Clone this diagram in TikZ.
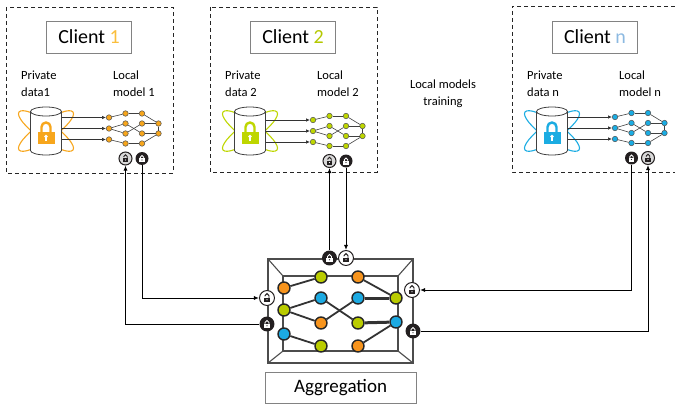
\documentclass[tikz,border=0pt]{standalone}
\usepackage{fontspec}
\setmainfont{Carlito}
\usepackage{tikz}
\usetikzlibrary{arrows.meta}
\definecolor{corange}{RGB}{247,166,28}
\definecolor{clime}{RGB}{190,214,0}
\definecolor{cblue}{RGB}{27,172,226}
\definecolor{torange}{RGB}{250,190,60}
\definecolor{tlime}{RGB}{180,200,0}
\definecolor{tblue}{RGB}{140,185,225}
\definecolor{aorange}{RGB}{247,148,29}
\definecolor{alime}{RGB}{186,204,0}
\definecolor{ablue}{RGB}{28,170,226}
\definecolor{lockdark}{RGB}{35,31,32}
\definecolor{boxgray}{RGB}{130,130,130}

\begin{document}
\begin{tikzpicture}[x=1pt, y=-1pt,
    clientbox/.style={draw=black!85, line width=0.9pt, dash pattern=on 4pt off 3pt},
    headbox/.style={draw=boxgray, line width=0.8pt, minimum width=85pt, minimum height=32pt, font=\fontsize{20}{24}\selectfont},
    note/.style={align=left, inner sep=0pt, font=\fontsize{12.5}{17}\selectfont},
    unit/.style={circle, draw=black!70, line width=0.5pt, fill=#1, minimum size=5.5pt, inner sep=0pt},
    link/.style={draw=black!75, line width=0.6pt},
    feed/.style={draw=black!80, line width=0.7pt, -{Latex[length=4pt,width=3.5pt]}},
    cylline/.style={draw=black!75, line width=0.8pt},
    cell/.style={circle, draw=black!85, line width=1.4pt, fill=#1, minimum size=12pt, inner sep=0pt},
    bond/.style={draw=black!80, line width=1.8pt},
    frame/.style={draw=black!70, line width=1.1pt},
    flow/.style={line width=0.9pt, -{Latex[length=5pt,width=4pt]}},
    lockring/.style={circle, minimum size=13pt, inner sep=0pt, transform shape},
    lockbg/.store in=\lockbg, lockbg=black!15,
    lockshut/.pic={
      \node[lockring, fill=lockdark] (#1) {};
      \draw[white, line width=0.9pt] (-1.7,0) -- (-1.7,-1.3) arc[start angle=180, end angle=360, radius=1.7] -- (1.7,0);
      \fill[white] (-2.8,-0.2) rectangle (2.8,3.6);
      \fill[lockdark] (0,1.5) circle (0.6);
    },
    lockopen/.pic={
      \node[lockring, draw=lockdark, line width=1pt, fill=\lockbg] (#1) {};
      \draw[lockdark, line width=0.9pt] (1.7,0) -- (1.7,-2.1) arc[start angle=0, end angle=-180, radius=1.7] -- (-1.7,-1.5);
      \fill[lockdark] (-2.8,-0.2) rectangle (2.8,3.6);
      \fill[white] (0,1.5) circle (0.6);
    },
    vault/.pic={
      % orbits, cylinder, padlock
      \draw[#1, line width=1.1pt, rotate=35] (0,0) ellipse (33 and 9);
      \draw[#1, line width=1.1pt, rotate=-35] (0,0) ellipse (33 and 9);
      \draw[cylline, fill=white] (-15.5,-19.5) -- (-15.5,19.5) arc[start angle=180, end angle=0, x radius=15.5, y radius=4.5] -- (15.5,-19.5);
      \draw[cylline, fill=white] (0,-19.5) ellipse (15.5 and 4.5);
      \draw[#1, line width=2.4pt] (-4.5,1) -- (-4.5,-4) arc[start angle=180, end angle=360, radius=4.5] -- (4.5,1);
      \fill[#1] (-8.5,1) rectangle (8.5,13);
      \fill[white] (0,5.5) circle (1.8);
      \fill[white] (-0.8,6) rectangle (0.8,10);
    }
]
\useasboundingbox (0,0) rectangle (675,404);

% dashed client frames
\draw[clientbox] (6,7) rectangle (173,173);
\draw[clientbox] (210,7) rectangle (377,172);
\draw[clientbox] (675,6) -| (512,172) -- (675,172);

% clients: title, labels, private data and local model
\foreach \k/\bx/\ny/\col/\tcol/\dlab in {1/6/128.5/corange/torange/data1, 2/210/131/clime/tlime/data 2, n/512/128/cblue/tblue/data n} {
  \begin{scope}[shift={(\bx,0)}]
    \node[headbox] (head\k) at (83,37) {Client \textcolor{\tcol}{\k}};
    \node[note, anchor=west] (priv\k) at (15,83.5) {Private\\\dlab};
    \node[note, anchor=west] (loc\k) at (107,83.5) {Local\\model \k};
    \pic at (40,131) {vault=\col};
    \foreach \n/\dx/\dy in {i1/0/-11, i2/0/0, i3/0/11, a1/16.5/-15, a2/16.5/-5, a3/16.5/5, a4/16.5/15,
                            b1/33/-15, b2/33/-5, b3/33/5, b4/33/15, o1/49.5/-5, o2/49.5/5}
      \node[unit=\col] (n\k-\n) at (103+\dx,\ny+\dy) {};
    \foreach \u/\v in {i1/a1, i2/a2, i2/a3, i3/a4, a1/b1, a2/b3, a3/b2, a4/b4, b1/o1, b2/o1, b3/o2, b4/o2, o1/o2}
      \draw[link] (n\k-\u) -- (n\k-\v);
    \foreach \j/\dy in {1/-11, 2/0, 3/11} {
      \coordinate (d\k-\j) at (55.5,\ny+\dy);
      \draw[feed] (d\k-\j) -- (n\k-i\j);
    }
    \coordinate (n\k-la) at (119.5,\ny+30);
    \coordinate (n\k-lb) at (136,\ny+30);
  \end{scope}
}

% client keys
\pic at (n1-la) {lockopen=c1o};
\pic at (n1-lb) {lockshut=c1s};
\pic at (n2-la) {lockopen=c2o};
\pic at (n2-lb) {lockshut=c2s};
\pic at (nn-la) {lockshut=cns};
\pic at (nn-lb) {lockopen=cno};

\node[note, align=center] (train) at (443,94) {Local models\\training};

% aggregation server
\draw[frame] (268,259) rectangle (413,363);
\draw[frame] (283,276) rectangle (398,351);
\draw[frame] (268,259) -- (283,276) (413,259) -- (398,276) (268,363) -- (283,351) (413,363) -- (398,351);

\foreach \n/\x/\y/\c in {a1/284/288/aorange, a2/284/310/alime, a3/284/334/ablue,
                         b1/321/277/alime, b2/321/298/ablue, b3/321/323/aorange, b4/321/346/alime,
                         c1/358/277/aorange, c2/358/298/ablue, c3/358/323/alime, c4/358/346/aorange,
                         d1/396/298/alime, d2/396/322/ablue}
  \node[cell=\c] (g-\n) at (\x,\y) {};
\foreach \u/\v in {a1/b1, a2/b2, a2/b3, a3/b4, b2/c3, b3/c2, c1/d1, c4/d2}
  \draw[bond] (g-\u) -- (g-\v);
\draw[bond, line width=3pt] (g-c2) -- (g-d1);
\draw[bond, line width=3pt] (g-c3) -- (g-d2);

\pic[lockbg=white, scale=1.15] at (267,298) {lockopen=aggLo};
\pic[scale=1.15] at (267,324) {lockshut=aggLs};
\pic[scale=1.15] at (329.5,258) {lockshut=aggTs};
\pic[lockbg=white, scale=1.15] at (346,258) {lockopen=aggTo};
\pic[lockbg=white, scale=1.15] at (412,290) {lockopen=aggRo};
\pic[scale=1.15] at (413,331) {lockshut=aggRs};

\node[draw=boxgray, line width=0.8pt, minimum width=151pt, minimum height=31pt, font=\fontsize{19}{23}\selectfont] (agg) at (340.5,387.5) {Aggregation};

% model exchange
\draw[flow] (c1s) |- (aggLo);
\draw[flow] (aggLs) -| (c1o);
\draw[flow] (aggTs) -- (c2o);
\draw[flow] (c2s) -- (aggTo);
\draw[flow] (cns) |- (aggRo);
\draw[flow] (aggRs) -| (cno);
\end{tikzpicture}
\end{document}
